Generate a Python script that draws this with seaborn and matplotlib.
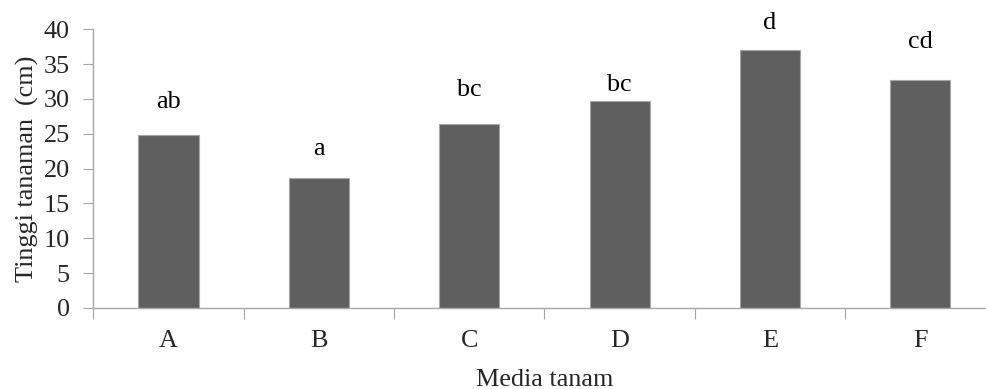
import matplotlib
matplotlib.use("Agg")
import matplotlib.pyplot as plt
import seaborn as sns
import pandas as pd
import numpy as np

# Plant height per growing medium
media = ["A", "B", "C", "D", "E", "F"]
tinggi = [24.8, 18.6, 26.4, 29.7, 37.1, 32.7]
notasi = ["ab", "a", "bc", "bc", "d", "cd"]
notasi_offset = [3.85, 3.35, 4.05, 1.5, 3.0, 4.55]

df = pd.DataFrame({"media": media, "tinggi": tinggi})

sns.set_theme(style="white")
plt.rcParams["font.family"] = ["Liberation Serif", "DejaVu Serif"]

FS = 18.8

fig = plt.figure(figsize=(9.86, 3.89), dpi=100)
ax = fig.add_axes([93.3 / 986, (389 - 308) / 389, (995.5 - 93.3) / 986, (308 - 29.3) / 389])

sns.barplot(data=df, x="media", y="tinggi", color="#5f5f5f", width=0.4,
            edgecolor="#a6a6a6", linewidth=0.8, saturation=1, ax=ax)

for i, (v, lab, off) in enumerate(zip(tinggi, notasi, notasi_offset)):
    ax.text(i, v + off, lab, ha="center", va="baseline", fontsize=FS, color="black")

ax.set_xlim(-0.5, len(media) - 0.5)
ax.set_ylim(0, 40)
ax.set_yticks(np.arange(0, 41, 5))
ax.set_xticks(np.arange(-0.5, len(media) - 0.5 + 0.01, 1), minor=True)

ax.tick_params(axis="y", which="major", length=7, width=0.8, color="#a6a6a6",
               labelsize=FS, pad=10, left=True, direction="out")
ax.tick_params(axis="x", which="major", length=0, labelsize=FS, pad=16)
ax.tick_params(axis="x", which="minor", length=8, width=0.8, color="#a6a6a6",
               bottom=True, direction="out")

for side in ["top", "right"]:
    ax.spines[side].set_visible(False)
for side in ["left", "bottom"]:
    ax.spines[side].set_color("#a6a6a6")
    ax.spines[side].set_linewidth(1.0)

ax.set_xlabel("Media tanam", fontsize=FS, labelpad=12)
ax.set_ylabel("Tinggi tanaman  (cm)", fontsize=FS, labelpad=3)

fig.savefig("out.png", dpi=100)
